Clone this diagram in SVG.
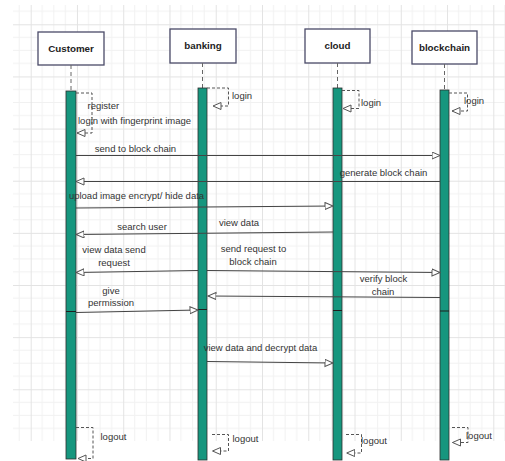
<svg xmlns="http://www.w3.org/2000/svg" width="505" height="461" viewBox="0 0 505 461">
<defs>
<pattern id="grid" patternUnits="userSpaceOnUse" x="30.7" y="24.3" width="46.26" height="52.14">
<g stroke="#f1f1f1" stroke-width="1">
<line x1="11.565" y1="0" x2="11.565" y2="52.14"/>
<line x1="23.13" y1="0" x2="23.13" y2="52.14"/>
<line x1="34.695" y1="0" x2="34.695" y2="52.14"/>
<line x1="0" y1="13.035" x2="46.26" y2="13.035"/>
<line x1="0" y1="26.07" x2="46.26" y2="26.07"/>
<line x1="0" y1="39.105" x2="46.26" y2="39.105"/>
</g>
<g stroke="#e3e3e3" stroke-width="1">
<line x1="0.5" y1="0" x2="0.5" y2="52.14"/>
<line x1="0" y1="0.5" x2="46.26" y2="0.5"/>
</g>
</pattern>
<marker id="open" markerUnits="userSpaceOnUse" markerWidth="10" markerHeight="9" refX="8.5" refY="4" orient="auto">
<path d="M0.5,0.5 L8.5,4 L0.5,7.5 Z" fill="#ffffff" stroke="#555555" stroke-width="1" stroke-dasharray="none"/>
</marker>
</defs>
<style>
.box{fill:#ffffff;stroke:#4a4a68;stroke-width:1.3}
.hdr{font-family:"Liberation Sans",Arial,sans-serif;font-size:9.8px;font-weight:bold;fill:#222;text-anchor:middle}
.life{stroke:#666;stroke-width:1;stroke-dasharray:4,3;fill:none}
.bar{fill:#16967e;stroke:#2d2d2d;stroke-width:0.8}
.msg{stroke:#444;stroke-width:1;fill:none;marker-end:url(#open)}
.self{stroke:#555;stroke-width:1;stroke-dasharray:3,2;fill:none;marker-end:url(#open)}
.lbl{font-family:"Liberation Sans",Arial,sans-serif;font-size:9.5px;fill:#333}
.c{text-anchor:middle}
.div{stroke:#1e1e1e;stroke-width:1}
</style>
<rect x="13" y="5" width="492" height="436" fill="url(#grid)"/>

<g id="customer">
<rect class="box" x="38" y="32" width="66" height="33"/>
<text class="hdr" x="71" y="52">Customer</text>
<line class="life" x1="71" y1="65" x2="71" y2="91"/>
<rect class="bar" x="66" y="91" width="10" height="368"/>
<line class="div" x1="66" y1="311.5" x2="76" y2="311.5"/>
</g>
<g id="banking">
<rect class="box" x="170" y="29" width="66" height="34"/>
<text class="hdr" x="203" y="49">banking</text>
<line class="life" x1="202.5" y1="63" x2="202.5" y2="88"/>
<rect class="bar" x="198" y="88" width="9" height="372"/>
<line class="div" x1="198" y1="309.5" x2="207" y2="309.5"/>
</g>
<g id="cloud">
<rect class="box" x="305" y="29" width="65" height="34"/>
<text class="hdr" x="337.5" y="49">cloud</text>
<line class="life" x1="337.5" y1="63" x2="337.5" y2="88"/>
<rect class="bar" x="333" y="88" width="9" height="372"/>
<line class="div" x1="333" y1="310.5" x2="342" y2="310.5"/>
</g>
<g id="blockchain">
<rect class="box" x="412" y="31" width="65" height="33"/>
<text class="hdr" x="444.5" y="51">blockchain</text>
<line class="life" x1="444.5" y1="64" x2="444.5" y2="90"/>
<rect class="bar" x="440" y="90" width="9" height="370"/>
<line class="div" x1="440" y1="311" x2="449" y2="311"/>
</g>

<g id="connectors">
<path class="self" d="M76,93 H92 V133 H77"/>
<path class="self" d="M207,88 H228.5 V106 H213"/>
<path class="self" d="M342,90.5 H359 V108.5 H343"/>
<path class="self" d="M449,93 H467.5 V111 H452"/>
<path class="msg" d="M76,155.5 L440,155.5"/>
<path class="msg" d="M440,181.5 L76,181.5"/>
<path class="msg" d="M76,208 L333,206"/>
<path class="msg" d="M333,232 L76,234.5"/>
<path class="msg" d="M198,270.5 L76,272.5"/>
<path class="msg" d="M207,270.5 L440,272.5"/>
<path class="msg" d="M440,297.5 L208,296"/>
<path class="msg" d="M76,312.5 L198,310"/>
<path class="msg" d="M207,361.5 L333,363"/>
<path class="self" d="M76,427.5 H93 V458.5 H78"/>
<path class="self" d="M212,434.5 H228.5 V451 H212.5"/>
<path class="self" d="M346,434.5 H361.5 V453 H346.7"/>
<path class="self" d="M452,427.5 H468 V442.5 H452.5"/>
</g>

<g id="labels">
<text class="lbl" x="87.5" y="108.5">register</text>
<text class="lbl" x="78" y="123.5">login with fingerprint image</text>
<text class="lbl" x="232" y="98.5">login</text>
<text class="lbl" x="361" y="106">login</text>
<text class="lbl" x="464" y="103.5">login</text>
<text class="lbl c" x="135.5" y="151.5">send to block chain</text>
<text class="lbl c" x="383.5" y="176">generate block chain</text>
<text class="lbl c" x="136.5" y="199">upload image encrypt/ hide data</text>
<text class="lbl c" x="142" y="229.5">search user</text>
<text class="lbl c" x="239" y="226">view data</text>
<text class="lbl c" x="114" y="252.5">view data send</text>
<text class="lbl c" x="114" y="266">request</text>
<text class="lbl c" x="253.5" y="252">send request to</text>
<text class="lbl c" x="253" y="265">block chain</text>
<text class="lbl c" x="383.5" y="282">verify block</text>
<text class="lbl c" x="383" y="295">chain</text>
<text class="lbl c" x="111" y="293.5">give</text>
<text class="lbl c" x="111" y="306">permission</text>
<text class="lbl c" x="260.5" y="351">view data and decrypt data</text>
<text class="lbl" x="100.5" y="440">logout</text>
<text class="lbl" x="232.5" y="441.5">logout</text>
<text class="lbl" x="361" y="444">logout</text>
<text class="lbl" x="466" y="438.5">logout</text>
</g>
</svg>
